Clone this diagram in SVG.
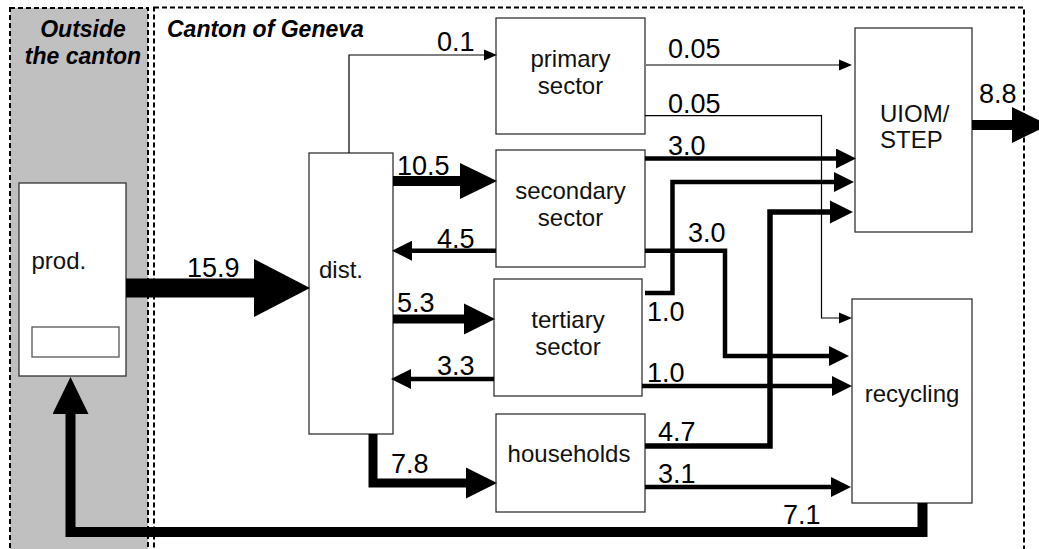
<svg xmlns="http://www.w3.org/2000/svg" width="1039" height="549" viewBox="0 0 1039 549">
  <style>
    .zone { stroke: #000; stroke-width: 2; stroke-dasharray: 5 3; }
    .title { font-family: "Liberation Sans", Arial, sans-serif; font-size: 23px; font-weight: bold; font-style: italic; fill: #000; }
    .box { fill: #fff; stroke: #333; stroke-width: 1.3; }
    .lbl { font-family: "Liberation Sans", Arial, sans-serif; font-size: 24px; fill: #111; }
    .mid { text-anchor: middle; }
    .num { font-family: "Liberation Sans", Arial, sans-serif; font-size: 27px; fill: #000; }
    .flow { fill: none; stroke: #000; stroke-linejoin: miter; stroke-linecap: butt; }
    .w1 { stroke-width: 1.2; marker-end: url(#ah-thin); }
    .w4 { stroke-width: 4.5; marker-end: url(#ah-m); }
    .w6 { stroke-width: 5.5; marker-end: url(#ah-l); }
    .w9 { stroke-width: 9; marker-end: url(#ah-9); }
    .w10 { stroke-width: 10; marker-end: url(#ah-10); }
    .w19 { stroke-width: 19; marker-end: url(#ah-19); }
  </style>
  <defs>
    <marker id="ah-thin" markerUnits="userSpaceOnUse" viewBox="0 -6 13 12" markerWidth="13" markerHeight="12" refX="1" refY="0" orient="auto">
      <path d="M0,-5.5 L13,0 L0,5.5 Z" fill="#000"/>
    </marker>
    <marker id="ah-m" markerUnits="userSpaceOnUse" viewBox="0 -10 20 20" markerWidth="20" markerHeight="20" refX="1" refY="0" orient="auto">
      <path d="M0,-10 L20,0 L0,10 Z" fill="#000"/>
    </marker>
    <marker id="ah-l" markerUnits="userSpaceOnUse" viewBox="0 -12 23 24" markerWidth="23" markerHeight="24" refX="1" refY="0" orient="auto">
      <path d="M0,-11.5 L23,0 L0,11.5 Z" fill="#000"/>
    </marker>
    <marker id="ah-9" markerUnits="userSpaceOnUse" viewBox="0 -16 31 32" markerWidth="31" markerHeight="32" refX="1" refY="0" orient="auto">
      <path d="M0,-15.5 L31,0 L0,15.5 Z" fill="#000"/>
    </marker>
    <marker id="ah-10" markerUnits="userSpaceOnUse" viewBox="0 -18 37 36" markerWidth="37" markerHeight="36" refX="1" refY="0" orient="auto">
      <path d="M0,-18 L37,0 L0,18 Z" fill="#000"/>
    </marker>
    <marker id="ah-19" markerUnits="userSpaceOnUse" viewBox="0 -29 56 58" markerWidth="56" markerHeight="58" refX="1" refY="0" orient="auto">
      <path d="M0,-29 L56,0 L0,29 Z" fill="#000"/>
    </marker>
  </defs>

  <rect width="1039" height="549" fill="#fff"/>

  <!-- system boundaries -->
  <g id="outside">
    <rect class="zone" x="10" y="8" width="138" height="560" fill="#c0c0c0"/>
    <text class="title mid" x="83" y="37">Outside</text>
    <text class="title mid" x="83" y="64">the canton</text>
  </g>
  <g id="canton">
    <rect class="zone" x="154" y="7.5" width="870" height="560" fill="none"/>
    <text class="title" x="167" y="37">Canton of Geneva</text>
  </g>

  <!-- process boxes -->
  <g id="prod">
    <rect class="box" x="19" y="183" width="107" height="193"/>
    <rect x="32" y="327" width="87" height="30" fill="#fff" stroke="#555" stroke-width="1.3"/>
    <text class="lbl" x="31.5" y="269">prod.</text>
  </g>
  <g id="dist">
    <rect class="box" x="309" y="153" width="84" height="281"/>
    <text class="lbl" x="319" y="278">dist.</text>
  </g>
  <g id="primary">
    <rect class="box" x="496" y="18" width="149" height="116"/>
    <text class="lbl mid" x="570.5" y="67">primary</text>
    <text class="lbl mid" x="570.5" y="94">sector</text>
  </g>
  <g id="secondary">
    <rect class="box" x="496" y="150" width="149" height="117"/>
    <text class="lbl mid" x="570.5" y="199">secondary</text>
    <text class="lbl mid" x="570.5" y="226">sector</text>
  </g>
  <g id="tertiary">
    <rect class="box" x="494" y="279" width="148" height="117"/>
    <text class="lbl mid" x="568" y="328">tertiary</text>
    <text class="lbl mid" x="568" y="355">sector</text>
  </g>
  <g id="households">
    <rect class="box" x="496" y="414" width="149" height="98"/>
    <text class="lbl mid" x="569" y="462">households</text>
  </g>
  <g id="uiom">
    <rect class="box" x="855" y="28" width="117" height="204"/>
    <text class="lbl" x="880" y="122">UIOM/</text>
    <text class="lbl" x="880" y="148">STEP</text>
  </g>
  <g id="recycling">
    <rect class="box" x="852" y="299" width="120" height="204"/>
    <text class="lbl mid" x="912" y="402">recycling</text>
  </g>

  <!-- material flows -->
  <g id="connectors">
    <path class="flow w19" d="M126,288 H255"/>
    <path class="flow w1" d="M349,153 V55 H485"/>
    <path class="flow w1" d="M646,65 H840"/>
    <path class="flow w1" d="M645,115.7 H821.5 V318 H840"/>
    <path class="flow w10" d="M972,125 H1013"/>
    <path class="flow w10" d="M393,181 H461"/>
    <path class="flow w4" d="M645,158.5 H837"/>
    <path class="flow w4" d="M645,293 H672.5 V182 H835"/>
    <path class="flow w6" d="M645,446 H770 V212 H831"/>
    <path class="flow w4" d="M496,250.7 H411"/>
    <path class="flow w4" d="M645,250.7 H725 V356 H830"/>
    <path class="flow w9" d="M393,319 H465"/>
    <path class="flow w4" d="M494,379 H410"/>
    <path class="flow w4" d="M642,386 H833"/>
    <path class="flow w9" d="M373,434 V483 H467"/>
    <path class="flow w4" d="M645,487 H832"/>
    <path class="flow w10" d="M922.5,503 V532 H70.5 V413"/>
  </g>

  <!-- flow quantities -->
  <g id="flow-labels">
    <text class="num" x="187" y="277">15.9</text>
    <text class="num" x="437" y="51">0.1</text>
    <text class="num" x="668" y="58">0.05</text>
    <text class="num" x="668" y="113">0.05</text>
    <text class="num" x="979" y="103">8.8</text>
    <text class="num" x="668" y="155">3.0</text>
    <text class="num" x="397" y="175">10.5</text>
    <text class="num" x="437" y="248">4.5</text>
    <text class="num" x="688" y="242">3.0</text>
    <text class="num" x="647" y="321">1.0</text>
    <text class="num" x="397" y="312">5.3</text>
    <text class="num" x="437" y="375">3.3</text>
    <text class="num" x="647" y="382">1.0</text>
    <text class="num" x="658" y="441">4.7</text>
    <text class="num" x="658" y="483">3.1</text>
    <text class="num" x="391" y="473">7.8</text>
    <text class="num" x="783" y="524">7.1</text>
  </g>
</svg>
